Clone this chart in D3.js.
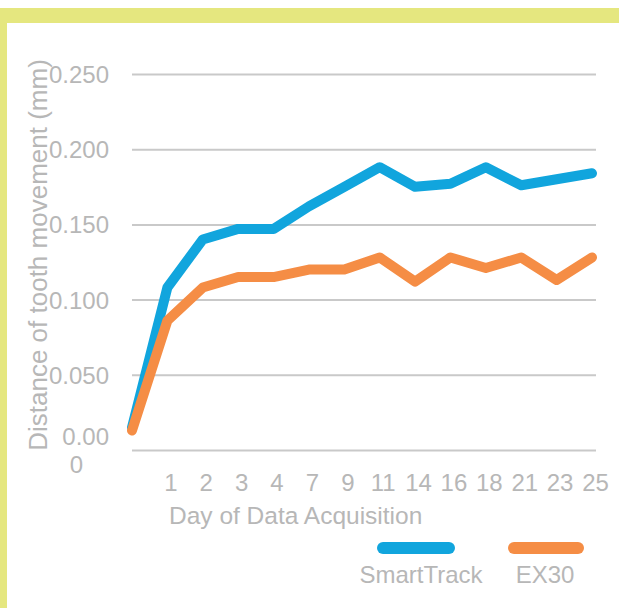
<!DOCTYPE html>
<html lang="en">
<head>
  <meta charset="UTF-8" />
  <title>Tooth movement chart</title>
  <script src="https://d3js.org/d3.v7.min.js"></script>
  <style>
    body { margin: 0; background: #fff; }
    svg { font-family: "Liberation Sans", Arial, sans-serif; display: block; }
    .line { fill: none; stroke-width: 10px; stroke-linejoin: round; stroke-linecap: round; }
    .lbl { fill: #b7b7b7; font-size: 24px; }
  </style>
</head>
<body>
  <svg width="619" height="608"></svg>

  <script>
    const days = ["0", "1", "2", "3", "4", "7", "9", "11", "14", "16", "18", "21", "23", "25"];
    const dayLabels = ["", "1", "2", "3", "4", "7", "9", "11", "14", "16", "18", "21", "23", "25"];
    const smartTrack = [0.015, 0.108, 0.140, 0.147, 0.147, 0.162, 0.175, 0.188, 0.175, 0.177, 0.188, 0.176, 0.180, 0.184];
    const ex30 = [0.013, 0.086, 0.108, 0.115, 0.115, 0.120, 0.120, 0.128, 0.112, 0.128, 0.121, 0.128, 0.113, 0.128];
    const yTicks = [0, 0.05, 0.1, 0.15, 0.2, 0.25];
    const yTickLabels = ["0.00\n0", "0.050", "0.100", "0.150", "0.200", "0.250"];

    const svg = d3.select("svg");

    // yellow frame
    svg.append("rect").attr("x", 0).attr("y", 8).attr("width", 619).attr("height", 15).attr("fill", "#e5e77f");
    svg.append("rect").attr("x", 0).attr("y", 8).attr("width", 7).attr("height", 600).attr("fill", "#e5e77f");

    const x = d3.scalePoint().domain(days).range([132, 592]);
    const y = d3.scaleLinear().domain([0, 0.25]).range([450, 74]);

    // gridlines + y labels
    const yAxis = svg.append("g")
      .attr("transform", "translate(132,0)")
      .call(d3.axisLeft(y).tickValues(yTicks).tickSize(-464).tickPadding(23)
        .tickFormat((d, i) => yTickLabels[i]));
    yAxis.select(".domain").remove();
    yAxis.selectAll("line").attr("stroke", "#c9c9c9").attr("stroke-width", 2);
    yAxis.selectAll("text").attr("class", "lbl").attr("dy", "0.35em")
      .each(function(d, i) {
        const parts = yTickLabels[i].split("\n");
        if (parts.length > 1) {
          const t = d3.select(this).text(null).attr("dy", null);
          t.append("tspan").attr("x", -23).attr("y", -6).text(parts[0]);
          t.append("tspan").attr("x", -23).attr("y", 22).attr("dx", -26).text(parts[1]);
        }
      });

    // x labels
    const xAxis = svg.append("g")
      .attr("transform", "translate(0,450)")
      .call(d3.axisBottom(x).tickSize(0).tickPadding(24).tickFormat((d, i) => dayLabels[i]));
    xAxis.select(".domain").remove();
    xAxis.selectAll("text").attr("class", "lbl").attr("dx", 3);

    // axis titles
    svg.append("text").attr("class", "lbl")
      .attr("x", 169).attr("y", 524)
      .style("font-size", "24.5px")
      .text("Day of Data Acquisition");
    svg.append("text").attr("class", "lbl")
      .attr("transform", "translate(47,255) rotate(-90)")
      .attr("text-anchor", "middle")
      .style("font-size", "26px")
      .text("Distance of tooth movement (mm)");

    const line = d3.line()
      .x((d, i) => x(days[i]))
      .y(d => y(d));

    svg.append("path").datum(smartTrack).attr("class", "line").attr("stroke", "#11a5dd").attr("d", line);
    svg.append("path").datum(ex30).attr("class", "line").attr("stroke", "#f58d45").attr("d", line);

    // legend
    const legend = [
      { name: "SmartTrack", color: "#11a5dd", x0: 383, x1: 449, tx: 421 },
      { name: "EX30", color: "#f58d45", x0: 514, x1: 578, tx: 545 }
    ];
    legend.forEach(l => {
      svg.append("line").attr("x1", l.x0).attr("x2", l.x1).attr("y1", 548).attr("y2", 548)
        .attr("stroke", l.color).attr("stroke-width", 12).attr("stroke-linecap", "round");
      svg.append("text").attr("class", "lbl").attr("x", l.tx).attr("y", 583)
        .attr("text-anchor", "middle").text(l.name);
    });
  </script>
</body>
</html>
